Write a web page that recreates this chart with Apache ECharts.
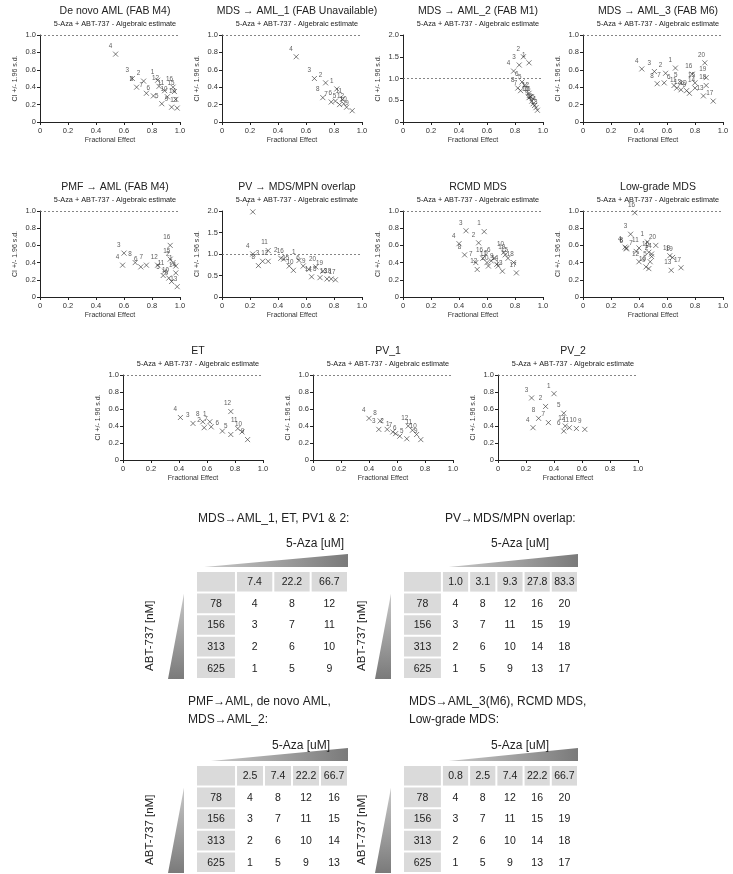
<!DOCTYPE html>
<html><head><meta charset="utf-8">
<script src="https://cdn.jsdelivr.net/npm/echarts@6/dist/echarts.min.js"></script>
<style>html,body{margin:0;padding:0;background:#fff}#c{width:733px;height:874px}</style>
</head><body><div id="c"></div>
<script>
// ---------- Scatter data: [Fractional Effect, CI +/- 1.96 s.d.]; label = index+1 ----------
const deNovoAML = [[0.84,0.48],[0.74,0.47],[0.66,0.50],[0.54,0.78],[0.87,0.21],[0.81,0.30],[0.76,0.33],[0.69,0.40],[0.94,0.17],[0.91,0.29],[0.89,0.36],[0.85,0.41],[0.98,0.16],[0.97,0.26],[0.96,0.35],[0.95,0.40]];
const mdsAML1 = [[0.82,0.38],[0.74,0.45],[0.66,0.50],[0.53,0.75],[0.84,0.20],[0.81,0.24],[0.78,0.23],[0.72,0.28],[0.93,0.13],[0.89,0.17],[0.86,0.26],[0.87,0.21]];
const mdsAML2 = [[0.90,1.36],[0.86,1.50],[0.83,1.31],[0.79,1.17],[0.87,0.84],[0.85,0.92],[0.84,0.72],[0.82,0.78],[0.92,0.48],[0.90,0.56],[0.93,0.42],[0.90,0.66],[0.96,0.27],[0.95,0.33],[0.94,0.38],[0.91,0.58]];
const mdsAML3 = [[0.66,0.62],[0.59,0.56],[0.51,0.58],[0.42,0.61],[0.70,0.45],[0.65,0.42],[0.58,0.45],[0.53,0.44],[0.76,0.33],[0.74,0.36],[0.67,0.39],[0.70,0.37],[0.86,0.30],[0.80,0.39],[0.80,0.45],[0.78,0.55],[0.93,0.24],[0.88,0.42],[0.88,0.51],[0.87,0.68]];
const pmfAML = [[0.97,0.36],[0.95,0.40],[0.60,0.51],[0.59,0.37],[0.88,0.25],[0.72,0.35],[0.76,0.37],[0.68,0.40],[0.94,0.18],[0.92,0.22],[0.89,0.30],[0.84,0.37],[0.98,0.12],[0.97,0.28],[0.93,0.44],[0.93,0.60]];
const pvMDSMPN = [[0.55,0.85],[0.42,0.90],[0.29,0.83],[0.22,1.00],[0.70,0.45],[0.58,0.72],[0.22,1.98],[0.26,0.73],[0.62,0.64],[0.51,0.62],[0.33,1.08],[0.33,0.83],[0.75,0.42],[0.64,0.47],[0.48,0.72],[0.44,0.88],[0.81,0.40],[0.78,0.42],[0.72,0.60],[0.67,0.70]];
const rcmdMDS = [[0.58,0.76],[0.54,0.63],[0.45,0.77],[0.40,0.62],[0.63,0.42],[0.65,0.45],[0.52,0.40],[0.44,0.49],[0.67,0.38],[0.72,0.52],[0.60,0.40],[0.53,0.32],[0.71,0.30],[0.68,0.36],[0.75,0.45],[0.57,0.45],[0.81,0.28],[0.79,0.40],[0.73,0.49],[0.61,0.36]];
const lowGradeMDS = [[0.46,0.64],[0.49,0.47],[0.34,0.73],[0.30,0.58],[0.48,0.41],[0.31,0.56],[0.38,0.53],[0.31,0.57],[0.47,0.33],[0.45,0.35],[0.40,0.57],[0.40,0.41],[0.63,0.31],[0.49,0.50],[0.47,0.52],[0.37,0.98],[0.70,0.34],[0.62,0.48],[0.64,0.46],[0.52,0.60]];
const etData = [[0.62,0.45],[0.58,0.38],[0.50,0.43],[0.41,0.50],[0.77,0.30],[0.71,0.34],[0.63,0.39],[0.57,0.45],[0.89,0.24],[0.85,0.33],[0.82,0.37],[0.77,0.57]];
const pv1Data = [[0.57,0.33],[0.53,0.36],[0.47,0.36],[0.40,0.49],[0.67,0.25],[0.62,0.28],[0.59,0.31],[0.48,0.46],[0.77,0.24],[0.74,0.30],[0.71,0.35],[0.68,0.40]];
const pv2Data = [[0.40,0.78],[0.34,0.63],[0.24,0.73],[0.25,0.38],[0.47,0.55],[0.47,0.34],[0.36,0.44],[0.29,0.49],[0.62,0.36],[0.56,0.37],[0.51,0.38],[0.48,0.40]];

// ---------- Table data ----------
const abtRows = ['78','156','313','625'];
const t1Aza = ['7.4','22.2','66.7'];
const t1Combos = [[4,8,12],[3,7,11],[2,6,10],[1,5,9]];
const t2Aza = ['1.0','3.1','9.3','27.8','83.3'];
const t2Combos = [[4,8,12,16,20],[3,7,11,15,19],[2,6,10,14,18],[1,5,9,13,17]];
const t3Aza = ['2.5','7.4','22.2','66.7'];
const t3Combos = [[4,8,12,16],[3,7,11,15],[2,6,10,14],[1,5,9,13]];
const t4Aza = ['0.8','2.5','7.4','22.2','66.7'];
const t4Combos = [[4,8,12,16,20],[3,7,11,15,19],[2,6,10,14,18],[1,5,9,13,17]];

const FONT = 'Liberation Sans, Arial, Helvetica, sans-serif';
const SUB = '5-Aza + ABT-737 - Algebraic estimate';

// ---------- Layout ----------
const plots = [
  {name:'De novo AML (FAB M4)', data:deNovoAML, ymax:1, yint:0.2, left:40, top:35, h:87},
  {name:'MDS \u2192 AML_1 (FAB Unavailable)', data:mdsAML1, ymax:1, yint:0.2, left:222, top:35, h:87},
  {name:'MDS \u2192 AML_2 (FAB M1)', data:mdsAML2, ymax:2, yint:0.5, left:403, top:35, h:87},
  {name:'MDS \u2192 AML_3 (FAB M6)', data:mdsAML3, ymax:1, yint:0.2, left:583, top:35, h:87},
  {name:'PMF \u2192 AML (FAB M4)', data:pmfAML, ymax:1, yint:0.2, left:40, top:211, h:86},
  {name:'PV \u2192 MDS/MPN overlap', data:pvMDSMPN, ymax:2, yint:0.5, left:222, top:211, h:86},
  {name:'RCMD MDS', data:rcmdMDS, ymax:1, yint:0.2, left:403, top:211, h:86},
  {name:'Low-grade MDS', data:lowGradeMDS, ymax:1, yint:0.2, left:583, top:211, h:86},
  {name:'ET', data:etData, ymax:1, yint:0.2, left:123, top:375, h:85},
  {name:'PV_1', data:pv1Data, ymax:1, yint:0.2, left:313, top:375, h:85},
  {name:'PV_2', data:pv2Data, ymax:1, yint:0.2, left:498, top:375, h:85}
];
const PW = 140;

const tables = [
  {aza:t1Aza, combos:t1Combos, left:196, top:571, width:152, labelW:1.07, wedgeStart:-0.85,
   title:['MDS\u2192AML_1, ET, PV1 & 2:'], titleX:193, titleY:508, azaX:310, azaY:533, abtX:150},
  {aza:t2Aza, combos:t2Combos, left:403, top:571, width:175, labelW:1.43, wedgeStart:0.25,
   title:['PV\u2192MDS/MPN overlap:'], titleX:440, titleY:508, azaX:515, azaY:533, abtX:362},
  {aza:t3Aza, combos:t3Combos, left:196, top:765, width:152, labelW:1.43, wedgeStart:-0.9,
   title:['PMF\u2192AML, de novo AML,','MDS\u2192AML_2:'], titleX:183, titleY:691, azaX:296, azaY:735, abtX:150},
  {aza:t4Aza, combos:t4Combos, left:403, top:765, width:175, labelW:1.43, wedgeStart:0.25,
   title:['MDS\u2192AML_3(M6), RCMD MDS,','Low-grade MDS:'], titleX:404, titleY:691, azaX:515, azaY:735, abtX:362}
];
const ROWH = 21.6;

const fmt = v => v === 0 ? '0' : v.toFixed(1);

const option = {
  animation:false,
  textStyle:{fontFamily:FONT},
  title:[], grid:[], xAxis:[], yAxis:[], series:[], graphic:[]
};

plots.forEach((p,i)=>{
  const cx = p.left + PW/2;
  option.title.push({text:p.name, left:cx, top:p.top-34, textAlign:'center',
    textStyle:{fontSize:10.5, fontWeight:'normal', color:'#222', fontFamily:FONT}});
  option.title.push({text:SUB, left:cx, top:p.top-20, textAlign:'center',
    textStyle:{fontSize:7.3, fontWeight:'normal', color:'#222', fontFamily:FONT}});
  option.grid.push({left:p.left, top:p.top, width:PW, height:p.h});
  option.xAxis.push({gridIndex:i, type:'value', min:0, max:1, interval:0.2,
    axisLine:{show:true, onZero:false, lineStyle:{color:'#222', width:1}},
    axisTick:{show:true, length:3, lineStyle:{color:'#222'}},
    splitLine:{show:false},
    axisLabel:{fontSize:7.5, color:'#333', margin:5, formatter:fmt},
    name:'Fractional Effect', nameLocation:'middle', nameGap:15,
    nameTextStyle:{fontSize:7, color:'#333'}});
  option.yAxis.push({gridIndex:i, type:'value', min:0, max:p.ymax, interval:p.yint,
    axisLine:{show:true, onZero:false, lineStyle:{color:'#222', width:1}},
    axisTick:{show:true, length:3, lineStyle:{color:'#222'}},
    splitLine:{show:false},
    axisLabel:{fontSize:7.5, color:'#333', margin:4, formatter:fmt},
    name:'CI +/- 1.96 s.d.', nameLocation:'middle', nameGap:21, nameRotate:90,
    nameTextStyle:{fontSize:7, color:'#333'}});
  option.series.push({
    type:'scatter', xAxisIndex:i, yAxisIndex:i, silent:true,
    data:p.data.map((d,k)=>({value:d, name:String(k+1)})),
    symbol:'path://M0,0L10,10M10,0L0,10', symbolSize:5,
    itemStyle:{color:'transparent', borderColor:'#333', borderWidth:0.8},
    label:{show:true, formatter:'{b}', position:[-4,-8], fontSize:6.3, color:'#333'},
    markLine:{silent:true, symbol:'none', label:{show:false},
      lineStyle:{type:[2,2], color:'#666', width:0.8}, data:[{yAxis:1}]}
  });
});

// ---------- Tables ----------
tables.forEach((t,ti)=>{
  const gi = option.grid.length;
  const nc = t.aza.length;
  option.grid.push({left:t.left, top:t.top, width:t.width, height:ROWH*5});
  option.xAxis.push({gridIndex:gi, type:'value', min:-t.labelW, max:nc, show:false});
  option.yAxis.push({gridIndex:gi, type:'value', min:0, max:5, inverse:true, show:false});
  const cells = [];
  cells.push({x0:-t.labelW, x1:0, r:0, text:'', fill:true});
  t.aza.forEach((a,c)=>cells.push({x0:c, x1:c+1, r:0, text:a, fill:true}));
  abtRows.forEach((ab,r)=>{
    cells.push({x0:-t.labelW, x1:0, r:r+1, text:ab, fill:true});
    t.combos[r].forEach((v,c)=>cells.push({x0:c, x1:c+1, r:r+1, text:String(v), fill:false}));
  });
  option.series.push({
    type:'custom', xAxisIndex:gi, yAxisIndex:gi, silent:true,
    data:cells.map(c=>[(c.x0+c.x1)/2, c.r+0.5]),
    renderItem:function(params, api){
      const c = cells[params.dataIndex];
      const p0 = api.coord([c.x0, c.r]);
      const p1 = api.coord([c.x1, c.r+1]);
      const x = Math.min(p0[0],p1[0])+1, y = Math.min(p0[1],p1[1])+1;
      const w = Math.abs(p1[0]-p0[0])-2, h = Math.abs(p1[1]-p0[1])-2;
      return {type:'group', children:[
        {type:'rect', shape:{x:x, y:y, width:w, height:h}, style:{fill:c.fill?'#dadada':'#fff'}},
        {type:'text', style:{text:c.text, x:x+w/2, y:y+h/2+0.5, align:'center', verticalAlign:'middle',
          fontSize:10.5, fontFamily:FONT, fill:'#222'}}
      ]};
    }
  });
  // wedges (decorative, positioned from the table's own axes)
  option.series.push({
    type:'custom', xAxisIndex:gi, yAxisIndex:gi, silent:true,
    data:[[0,0]],
    renderItem:function(params, api){
      const a = api.coord([t.wedgeStart, 0]);
      const b = api.coord([nc, 0]);
      const r1 = api.coord([-t.labelW, 1]);
      const r5 = api.coord([-t.labelW, 5]);
      const hb = a[1]-4;
      const xr = r1[0]-12;
      return {type:'group', children:[
        {type:'polygon', shape:{points:[[a[0],hb],[b[0],hb],[b[0],hb-13]]},
          style:{fill:new echarts.graphic.LinearGradient(0,0,1,0,[{offset:0,color:'#c8c8c8'},{offset:1,color:'#7a7a7a'}])}},
        {type:'polygon', shape:{points:[[xr,r1[1]+1],[xr,r5[1]],[xr-16,r5[1]]]},
          style:{fill:new echarts.graphic.LinearGradient(0,0,0,1,[{offset:0,color:'#c8c8c8'},{offset:1,color:'#7a7a7a'}])}}
      ]};
    }
  });
  t.title.forEach((line,li)=>{
    option.title.push({text:line, left:t.titleX, top:t.titleY+li*18,
      textStyle:{fontSize:12, fontWeight:'normal', color:'#222', fontFamily:FONT}});
  });
  option.title.push({text:'5-Aza [uM]', left:t.azaX, top:t.azaY, textAlign:'center',
    textStyle:{fontSize:12, fontWeight:'normal', color:'#222', fontFamily:FONT}});
  option.graphic.push({type:'text', x:t.abtX, y:t.top+ROWH*3, rotation:Math.PI/2,
    style:{text:'ABT-737 [nM]', align:'center', verticalAlign:'middle', fontSize:11.5, fontFamily:FONT, fill:'#222'}});
});

const chart = echarts.init(document.getElementById('c'), null, {renderer:'canvas'});
chart.setOption(option);
</script>
</body></html>
